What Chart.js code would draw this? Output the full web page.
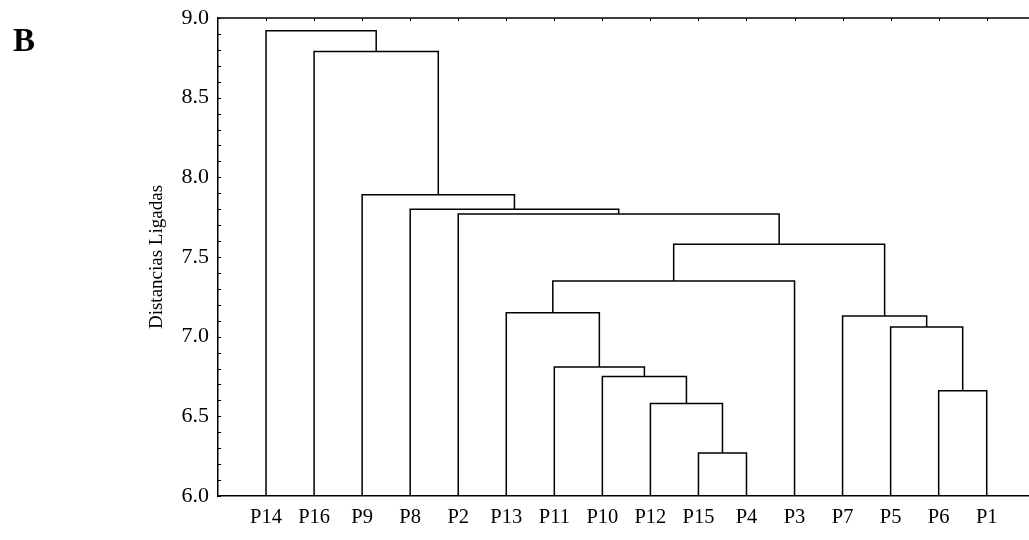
<!DOCTYPE html>
<html>
<head>
<meta charset="utf-8">
<script src="https://cdn.jsdelivr.net/npm/chart.js@4.4.0/dist/chart.umd.min.js"></script>
<style>
  html, body { margin:0; padding:0; background:#fff; overflow:hidden; }
  #wrap { position:relative; width:1029px; height:540px; overflow:hidden; }
  #panel-letter { position:absolute; left:13px; top:22px; font:bold 33px 'Liberation Serif', serif; color:#000; }
</style>
</head>
<body>
<div id="wrap">
  <canvas id="dendro" width="1029" height="540"></canvas>
  <div id="panel-letter">B</div>
</div>
<script>
// ── Dendrogram (linkage distances) ────────────────────────────────────────

// Leaf order along the bottom axis
const LEAVES = ['P14','P16','P9','P8','P2','P13','P11','P10','P12','P15','P4','P3','P7','P5','P6','P1'];

// Merge steps: A joins B at height H.  'C<n>' = the cluster made at step n
const MERGE_A = ['P15','P12','P6','P10','P11','P5','P7','P13','C7','C8','P2','P8','P9','P16','P14'];
const MERGE_B = ['P4', 'C0', 'P1','C1', 'C3', 'C2','C5','C4', 'P3','C6','C9','C10','C11','C12','C13'];
const MERGE_H = [6.27, 6.58, 6.66, 6.75, 6.81, 7.06, 7.13, 7.15, 7.35, 7.58, 7.77, 7.80, 7.89, 8.79, 8.92];

const Y_MIN  = 6.0;
const Y_MAX  = 9.0;
const Y_STEP = 0.5;

// Leaf/cluster positions (x = leaf slot, y = height)
const node = {};
LEAVES.forEach((n, i) => { node[n] = { x: i + 1, y: Y_MIN }; });
MERGE_H.forEach((h, i) => {
  const a = node[MERGE_A[i]], b = node[MERGE_B[i]];
  node['C' + i] = { x: (a.x + b.x) / 2, y: h };
});

// One 'Π' shaped line per merge
const datasets = MERGE_H.map((h, i) => {
  const a = node[MERGE_A[i]], b = node[MERGE_B[i]];
  return {
    data: [ { x:a.x, y:a.y }, { x:a.x, y:h }, { x:b.x, y:h }, { x:b.x, y:b.y } ],
    showLine:true, borderColor:'#000', borderWidth:1.5, pointRadius:0, tension:0, fill:false,
  };
});

// Top edge + inward tick marks (category slots on top, 0.1 steps on the left)
const frameTicks = {
  id: 'frameTicks',
  afterDraw(chart) {
    const { ctx, chartArea:{ left, right, top }, scales:{ x, y } } = chart;
    ctx.save();
    ctx.strokeStyle = '#000';
    ctx.lineWidth = 1.5;
    ctx.beginPath(); ctx.moveTo(left, top); ctx.lineTo(right, top); ctx.stroke();
    ctx.lineWidth = 1;
    ctx.beginPath();
    LEAVES.forEach((_, i) => {
      const px = Math.round(x.getPixelForValue(i + 1)) + 0.5;
      ctx.moveTo(px, top); ctx.lineTo(px, top + 3);
    });
    for (let k = 0; k <= Math.round((Y_MAX - Y_MIN) * 10); k++) {
      const py = Math.round(y.getPixelForValue(Y_MIN + k / 10)) + 0.5;
      ctx.moveTo(left, py); ctx.lineTo(left + 3, py);
    }
    ctx.stroke();
    ctx.restore();
  }
};

const SERIF = "'Liberation Serif', 'Times New Roman', serif";

new Chart(document.getElementById('dendro').getContext('2d'), {
  type: 'scatter',
  data: { datasets },
  plugins: [frameTicks],
  options: {
    responsive:false, animation:false,
    layout: { padding:{ left:140, top:18, right:0, bottom:0 } },
    plugins: { legend:{ display:false }, tooltip:{ enabled:false } },
    scales: {
      x: {
        type:'linear', min:0, max:16.88,
        afterFit: s => { s.height = 44; s.paddingRight = 0; s.paddingLeft = 0; },
        afterBuildTicks: s => { s.ticks = LEAVES.map((_, i) => ({ value: i + 1 })); },
        grid:{ display:false, drawTicks:false },
        border:{ display:true, color:'#000', width:1.5 },
        ticks:{
          autoSkip:false, maxRotation:0, padding:9, color:'#000',
          font:{ family:SERIF, size:20.5 },
          callback: v => LEAVES[v - 1],
        },
      },
      y: {
        min:Y_MIN, max:Y_MAX,
        afterFit: s => { s.width = 78; s.paddingTop = 0; s.paddingBottom = 0; },
        grid:{ display:false, drawTicks:false },
        border:{ display:true, color:'#000', width:1.5 },
        ticks:{ stepSize:Y_STEP, padding:9, color:'#000', font:{ family:SERIF, size:22 },
                callback: v => v.toFixed(1) },
        title:{ display:true, text:'Distancias Ligadas', color:'#000',
                font:{ family:SERIF, size:19 }, padding:{ top:6, bottom:0 } },
      },
    },
  },
});
</script>
</body>
</html>
